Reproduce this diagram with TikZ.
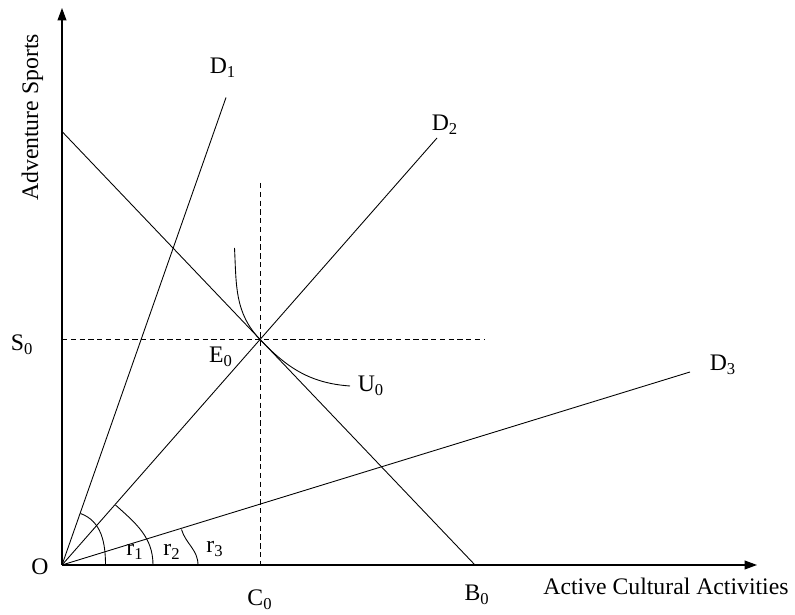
\documentclass[tikz,border=0pt]{standalone}
\usepackage{fontspec}
\setmainfont{Liberation Serif}
\usetikzlibrary{arrows.meta}
\newcommand{\ix}[2]{#1\textsubscript{#2}}

\begin{document}
\begin{tikzpicture}[line width=0.5pt,
    axis/.style={line width=0.7pt,-{Triangle[length=7pt,width=5pt]}},
    guide/.style={dash pattern=on 3pt off 2pt},
    lbl/.style={font=\fontsize{13.5}{16}\selectfont,inner sep=1pt}]
  \useasboundingbox (-1.24,-1.0) rectangle (14.66,11.3);
  % points
  \coordinate (O) at (0,0);
  \coordinate (ytop) at (0,11.14);
  \coordinate (xend) at (13.9,0);
  \coordinate (E0) at (3.96,4.51);
  \coordinate (d1) at (3.28,9.35);
  \coordinate (d2) at (7.5,8.54);
  \coordinate (d3) at (12.56,3.86);
  \coordinate (bs) at (0,8.67);
  \coordinate (be) at (8.26,0);
  \coordinate (ua) at (3.45,6.34);
  \coordinate (ub) at (5.76,3.58);
  % axes
  \draw[axis] (O) -- (ytop);
  \draw[axis] (O) -- (xend);
  % rays and budget line
  \draw (O) -- (d1);
  \draw (O) -- (d2);
  \draw (O) -- (d3);
  \draw (bs) -- (be);
  \draw[guide] (0,4.51) -- (8.46,4.51);
  \draw[guide] (3.96,7.64) -- (3.96,0);
  % indifference curve
  \draw (ua) to[out=-87,in=133.6] (E0) to[out=-46.4,in=176] (ub);
  % angle arcs
  \draw (0.87,0) to[out=90,in=-20] (0.37,1.03);
  \draw (1.82,0) to[out=90,in=-42] (1.07,1.2);
  \draw (2.72,0) to[out=90,in=-73] (2.39,0.71);
  % labels
  \node[lbl] (lO) at (-0.44,-0.04) {O};
  \node[lbl] (lS) at (-0.8,4.4) {\ix{S}{0}};
  \node[lbl] (lE) at (3.18,4.16) {\ix{E}{0}};
  \node[lbl] (lU) at (6.18,3.58) {\ix{U}{0}};
  \node[lbl] (lC) at (3.96,-0.7) {\ix{C}{0}};
  \node[lbl] (lB) at (8.3,-0.6) {\ix{B}{0}};
  \node[lbl] (lD1) at (3.22,9.94) {\ix{D}{1}};
  \node[lbl] (lD2) at (7.66,8.8) {\ix{D}{2}};
  \node[lbl] (lD3) at (13.22,4.0) {\ix{D}{3}};
  \node[lbl] (r1) at (1.46,0.26) {\ix{r}{1}};
  \node[lbl] (r2) at (2.2,0.26) {\ix{r}{2}};
  \node[lbl] (r3) at (3.06,0.32) {\ix{r}{3}};
  \node[lbl] (xlab) at (12.08,-0.42) {Active Cultural Activities};
  \node[lbl,rotate=90] (ylab) at (-0.59,8.95) {Adventure Sports};
\end{tikzpicture}
\end{document}
